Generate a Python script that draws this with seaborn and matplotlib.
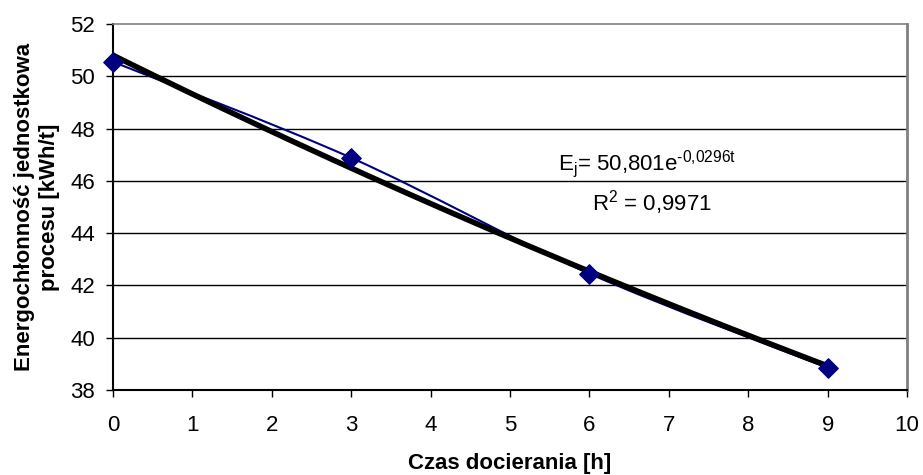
import numpy as np
import pandas as pd
import seaborn as sns
import matplotlib
matplotlib.use("Agg")
import matplotlib.pyplot as plt
from matplotlib.path import Path
from matplotlib.patches import PathPatch

# Data
czas = [0, 3, 6, 9]
energia = [50.55, 46.88, 42.45, 38.85]
trend_A = 50.801
trend_k = -0.0296
x_ticks = list(range(0, 11))
y_ticks = list(range(38, 53, 2))

sns.set_theme(style="white")
plt.rcParams['font.family'] = ['Liberation Sans', 'DejaVu Sans']
plt.rcParams['mathtext.fontset'] = 'custom'
plt.rcParams['mathtext.rm'] = 'Liberation Sans'
plt.rcParams['mathtext.default'] = 'regular'
plt.rcParams['text.color'] = 'black'
plt.rcParams['axes.labelcolor'] = 'black'
plt.rcParams['xtick.color'] = 'black'
plt.rcParams['ytick.color'] = 'black'

FS = 16

fig = plt.figure(figsize=(9.23, 4.75), dpi=100)
ax = fig.add_axes([0.1224, 0.179, 0.8603, 0.7706])

df = pd.DataFrame({"t": czas, "E": energia})

# smooth (Excel-like) line through data points: Catmull-Rom bezier
xs = np.array(czas, float)
ys = np.array(energia, float)
verts = [(xs[0], ys[0])]
codes = [Path.MOVETO]
n = len(xs)
for i in range(n - 1):
    p0 = (xs[max(i - 1, 0)], ys[max(i - 1, 0)])
    p1 = (xs[i], ys[i])
    p2 = (xs[i + 1], ys[i + 1])
    p3 = (xs[min(i + 2, n - 1)], ys[min(i + 2, n - 1)])
    c1 = (p1[0] + (p2[0] - p0[0]) / 6, p1[1] + (p2[1] - p0[1]) / 6)
    c2 = (p2[0] - (p3[0] - p1[0]) / 6, p2[1] - (p3[1] - p1[1]) / 6)
    verts += [c1, c2, p2]
    codes += [Path.CURVE4] * 3
ax.add_patch(PathPatch(Path(verts, codes), facecolor='none', edgecolor='#000080',
                       lw=1.5, zorder=3, clip_on=False))

# trend line
tt = np.linspace(czas[0], czas[-1], 200)
trend = pd.DataFrame({"t": tt, "E": trend_A * np.exp(trend_k * tt)})
sns.lineplot(data=trend, x="t", y="E", ax=ax, color='black', lw=4, zorder=4)

sns.scatterplot(data=df, x="t", y="E", ax=ax, marker='D', s=100, color='#000080',
                edgecolor='#000080', zorder=5, clip_on=False)

ax.set_xlim(0, 10)
ax.set_ylim(38, 52)
ax.set_xticks(x_ticks)
ax.set_yticks(y_ticks)
ax.tick_params(axis='both', labelsize=FS, direction='out', length=5, width=1,
               color='black', labelcolor='black', bottom=True, left=True)
ax.tick_params(axis='x', pad=13)
ax.tick_params(axis='y', pad=8)
for yv in y_ticks[1:-1]:
    ax.axhline(yv, color='black', lw=1, zorder=1)
ax.spines['left'].set_color('black')
ax.spines['bottom'].set_color('black')
ax.spines['top'].set_color('#808080')
ax.spines['right'].set_color('#808080')
for s in ax.spines.values():
    s.set_linewidth(1.2)
ax.spines['left'].set_linewidth(1.5)
ax.spines['bottom'].set_linewidth(1.5)
ax.spines['right'].set_linewidth(2)

ax.set_xlabel("Czas docierania [h]", fontsize=FS, fontweight='bold', labelpad=12,
              color='black')
ax.set_ylabel("Energochłonność jednostkowa\nprocesu [kWh/t]", fontsize=FS,
              fontweight='bold', labelpad=7, linespacing=1.3, color='black')

ax.text(5.60, 46.41, r"E$_{j}$= 50,801e$^{\text{-0,0296t}}$", fontsize=FS,
        ha='left', va='baseline', zorder=6, color='black')
ax.text(6.03, 44.88, r"R$^{2}$ = 0,9971", fontsize=FS, ha='left', va='baseline',
        zorder=6, color='black')

fig.savefig("out.png", dpi=100)
